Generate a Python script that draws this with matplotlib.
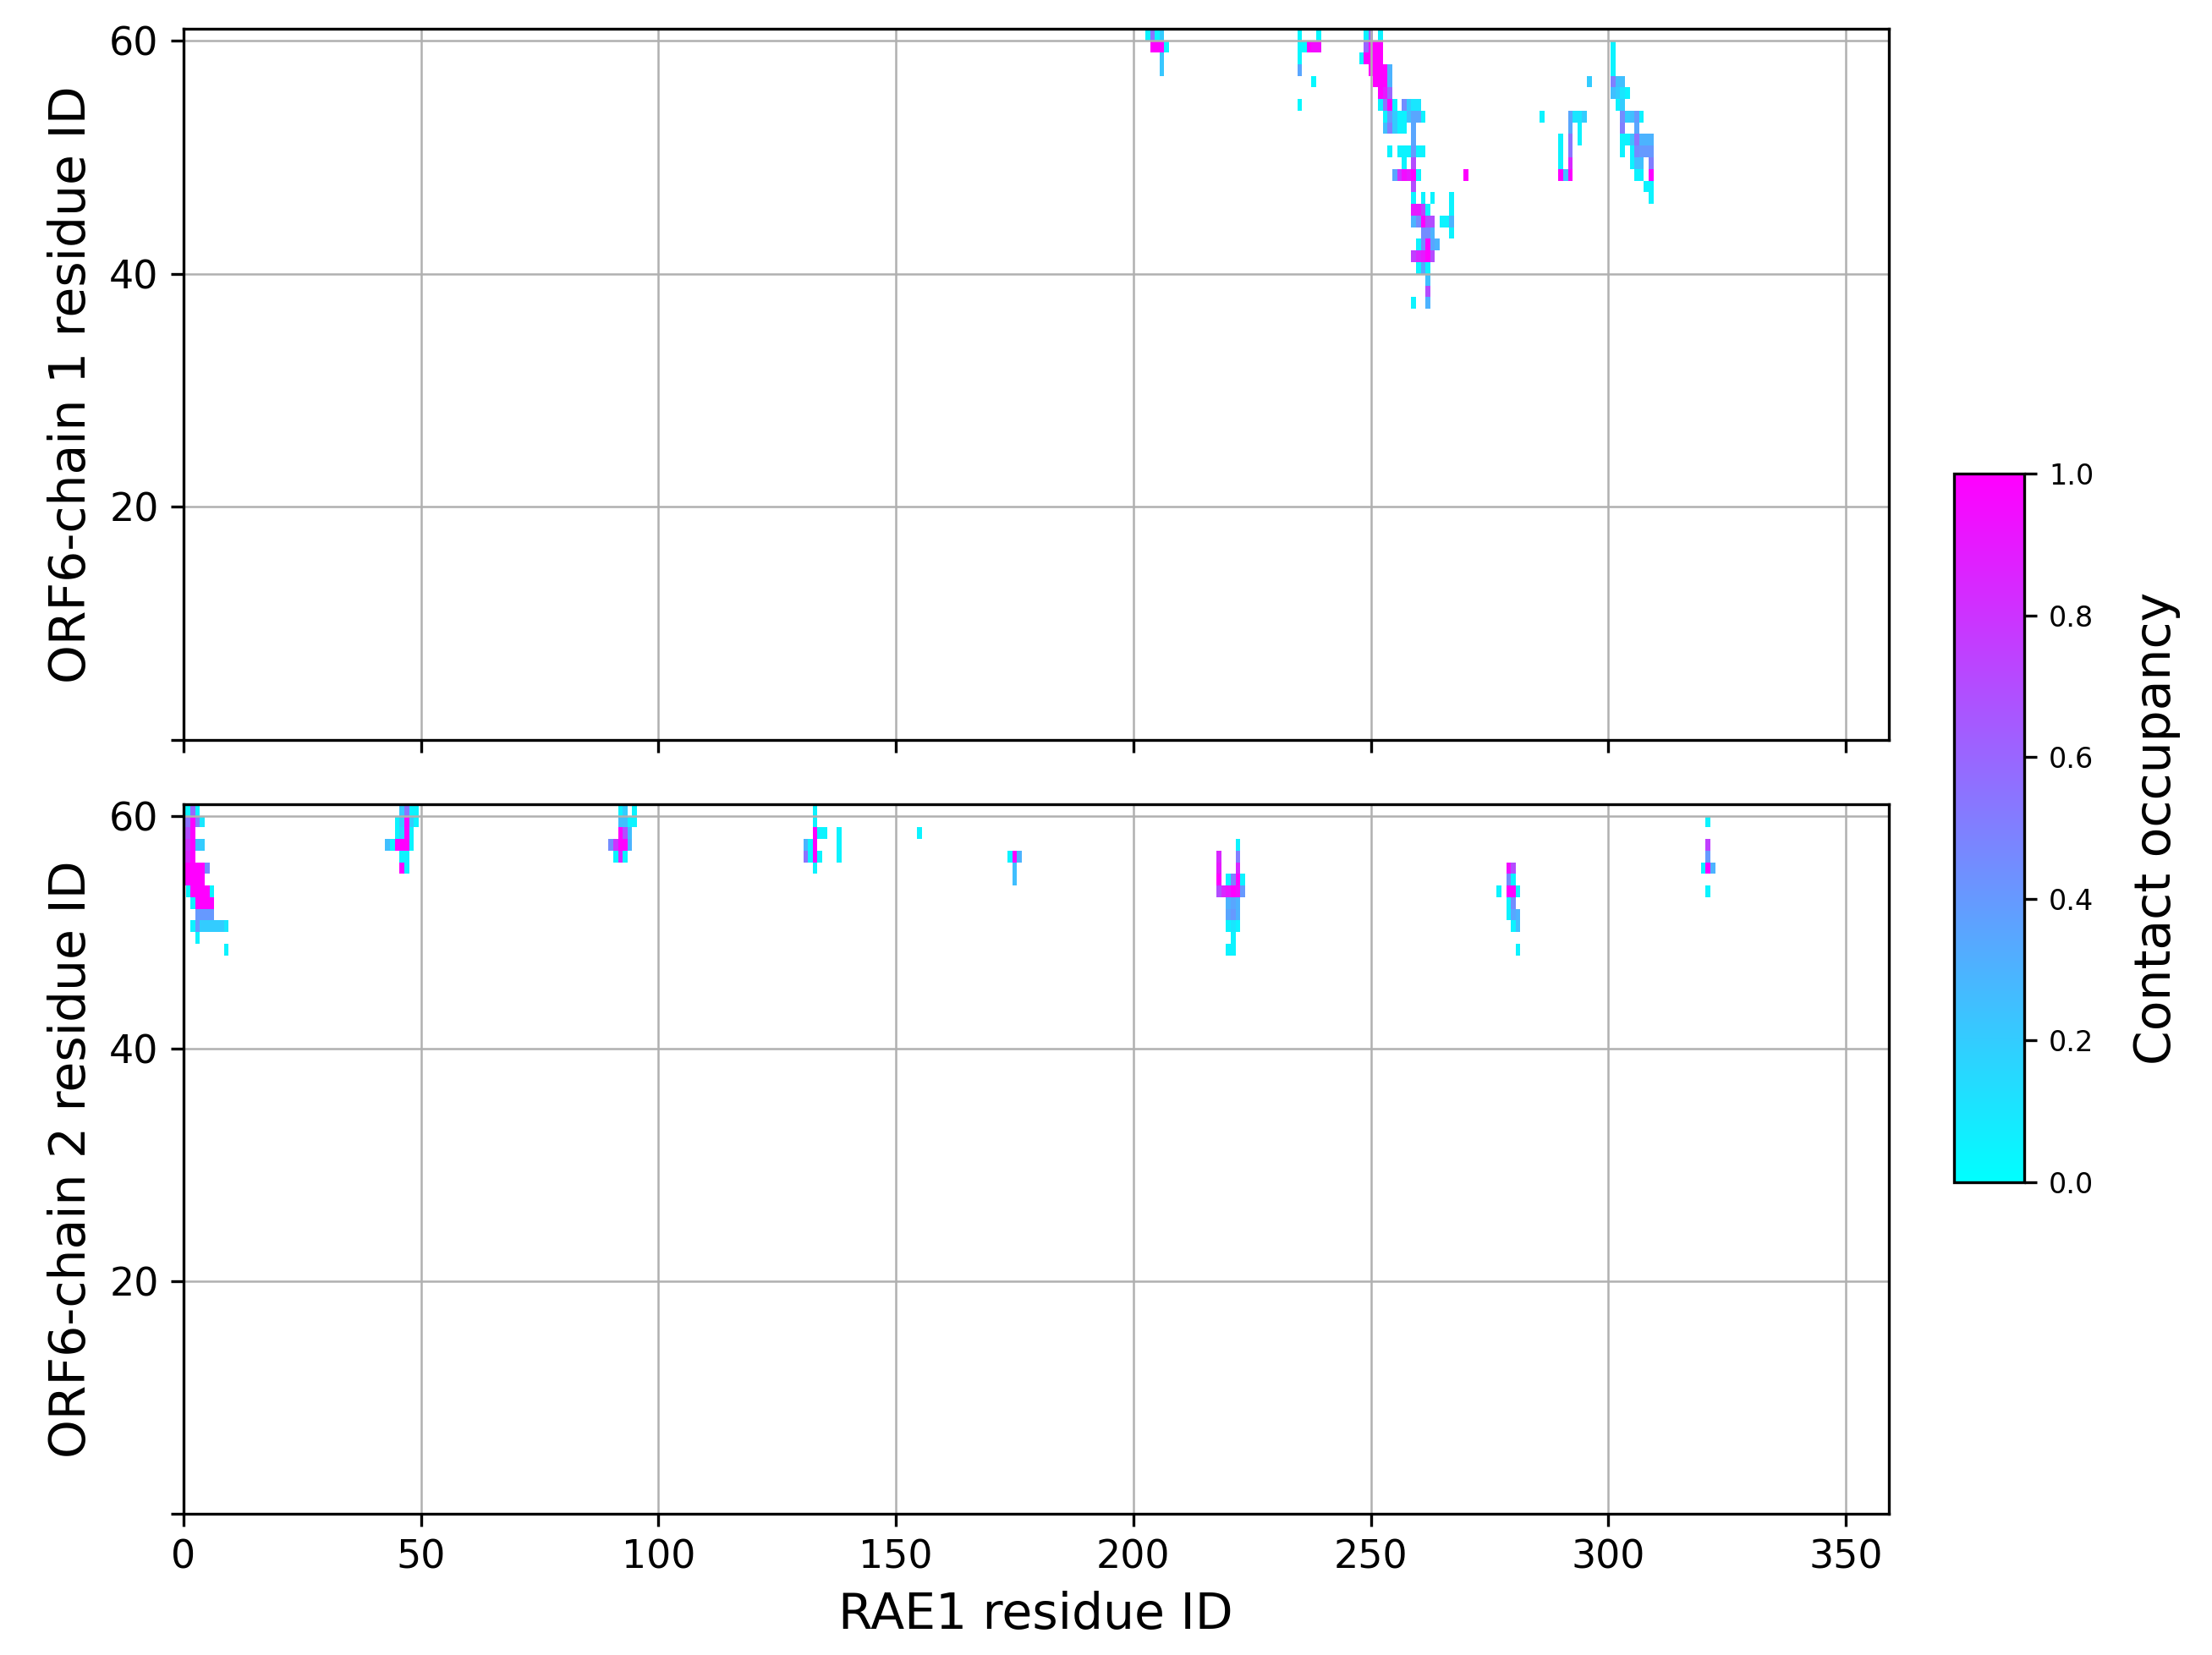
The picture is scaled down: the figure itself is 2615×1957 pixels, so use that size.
import numpy as np
import matplotlib
matplotlib.use("Agg")
import matplotlib.pyplot as plt

n_rae1 = 359
n_orf6 = 61

# contacts as (RAE1 residue index, ORF6 residue index, occupancy)
chain1_contacts = [
    # around RAE1 205
    (203, 60, 0.05), (204, 60, 0.55), (205, 60, 0.05), (206, 60, 0.2),
    (204, 59, 1.0), (205, 59, 1.0), (206, 59, 1.0), (207, 59, 0.05),
    (206, 58, 0.22), (206, 57, 0.22),
    # around RAE1 237
    (235, 60, 0.03), (239, 60, 0.03),
    (235, 59, 0.03), (236, 59, 0.03), (237, 59, 1.0), (238, 59, 0.95), (239, 59, 0.95),
    (235, 58, 0.03), (235, 57, 0.35), (238, 56, 0.03), (235, 54, 0.03),
    # main patch 248-270
    (249, 60, 0.05), (250, 60, 0.6), (252, 60, 0.05),
    (249, 59, 0.6), (250, 59, 1.0), (251, 59, 1.0), (252, 59, 1.0),
    (248, 58, 0.05), (249, 58, 1.0), (250, 58, 1.0), (251, 58, 1.0), (252, 58, 1.0),
    (250, 57, 1.0), (251, 57, 1.0), (252, 57, 1.0), (253, 57, 1.0), (254, 57, 0.3),
    (251, 56, 1.0), (252, 56, 1.0), (253, 56, 1.0), (254, 56, 0.3),
    (252, 55, 1.0), (253, 55, 0.9), (254, 55, 0.6),
    (252, 54, 0.05), (253, 54, 0.55), (254, 54, 1.0), (255, 54, 0.05), (257, 54, 0.45),
    (258, 54, 0.2), (259, 54, 0.1), (260, 54, 0.1),
    (253, 53, 0.05), (254, 53, 0.4), (255, 53, 0.2), (256, 53, 0.05), (257, 53, 0.05),
    (258, 53, 0.25), (259, 53, 0.35), (260, 53, 0.35), (261, 53, 0.05),
    (253, 52, 0.25), (254, 52, 0.5), (255, 52, 0.2), (256, 52, 0.05), (257, 52, 0.05),
    (259, 52, 0.35),
    (259, 51, 0.35),
    (254, 50, 0.05), (256, 50, 0.05), (257, 50, 0.05), (258, 50, 0.05), (259, 50, 0.4),
    (260, 50, 0.05), (261, 50, 0.05),
    (257, 49, 0.05), (259, 49, 0.7),
    (255, 48, 0.35), (256, 48, 0.8), (257, 48, 0.95), (258, 48, 0.9), (259, 48, 1.0),
    (260, 48, 0.05), (270, 48, 1.0),
    (259, 47, 0.7),
    (259, 46, 0.05), (261, 46, 0.05), (263, 46, 0.05), (267, 46, 0.05),
    (259, 45, 0.9), (260, 45, 0.9), (261, 45, 0.75), (262, 45, 0.05), (267, 45, 0.05),
    (259, 44, 0.3), (260, 44, 0.45), (261, 44, 1.0), (262, 44, 0.7), (263, 44, 0.7),
    (265, 44, 0.05), (266, 44, 0.05), (267, 44, 0.3),
    (261, 43, 0.45), (262, 43, 0.45), (263, 43, 0.3), (267, 43, 0.05),
    (260, 42, 0.05), (261, 42, 0.45), (262, 42, 1.0), (263, 42, 0.35), (264, 42, 0.3),
    (259, 41, 0.75), (260, 41, 0.85), (261, 41, 0.9), (262, 41, 1.0), (263, 41, 0.7),
    (260, 40, 0.05), (261, 40, 0.35), (262, 40, 0.05),
    (262, 39, 0.25), (262, 38, 0.7), (259, 37, 0.05), (262, 37, 0.3),
    # around RAE1 286-309
    (301, 59, 0.05), (301, 58, 0.05), (301, 57, 0.05),
    (296, 56, 0.2), (301, 56, 0.5), (302, 56, 0.25), (303, 56, 0.25),
    (301, 55, 0.25), (302, 55, 0.2), (303, 55, 0.1), (304, 55, 0.05),
    (302, 54, 0.05), (303, 54, 0.2),
    (286, 53, 0.05), (292, 53, 0.35), (293, 53, 0.1), (294, 53, 0.1), (295, 53, 0.2),
    (303, 53, 0.45), (304, 53, 0.2), (305, 53, 0.25), (306, 53, 0.4), (307, 53, 0.05),
    (292, 52, 0.35), (294, 52, 0.05), (303, 52, 0.5), (306, 52, 0.35),
    (290, 51, 0.05), (292, 51, 0.55), (294, 51, 0.05), (303, 51, 0.05), (304, 51, 0.05),
    (305, 51, 0.25), (306, 51, 0.55), (307, 51, 0.3), (308, 51, 0.3), (309, 51, 0.3),
    (290, 50, 0.05), (292, 50, 0.55), (303, 50, 0.05), (305, 50, 0.05), (306, 50, 0.45),
    (307, 50, 0.4), (308, 50, 0.4), (309, 50, 0.4),
    (290, 49, 0.05), (292, 49, 0.85), (305, 49, 0.05), (306, 49, 0.25), (307, 49, 0.25),
    (309, 49, 0.5),
    (290, 48, 1.0), (291, 48, 0.25), (292, 48, 1.0), (306, 48, 0.05), (307, 48, 0.05),
    (309, 48, 1.0),
    (308, 47, 0.05), (309, 47, 0.05), (309, 46, 0.05),
]

chain2_contacts = [
    # N-terminal patch 0-9
    (0, 60, 0.05), (1, 60, 0.05), (2, 60, 0.6), (3, 60, 0.05),
    (0, 59, 0.55), (1, 59, 0.55), (2, 59, 1.0), (3, 59, 0.5), (4, 59, 0.1),
    (0, 58, 0.7), (1, 58, 0.7), (2, 58, 1.0),
    (0, 57, 0.8), (1, 57, 0.8), (2, 57, 1.0), (3, 57, 0.25), (4, 57, 0.2),
    (0, 56, 0.85), (1, 56, 0.85), (2, 56, 1.0),
    (0, 55, 1.0), (1, 55, 1.0), (2, 55, 1.0), (3, 55, 1.0), (4, 55, 1.0), (5, 55, 0.45),
    (0, 54, 1.0), (1, 54, 1.0), (2, 54, 1.0), (3, 54, 1.0), (4, 54, 1.0),
    (1, 53, 0.05), (2, 53, 1.0), (3, 53, 1.0), (4, 53, 1.0), (5, 53, 1.0), (6, 53, 0.05),
    (2, 52, 0.05), (3, 52, 1.0), (4, 52, 1.0), (5, 52, 1.0), (6, 52, 1.0),
    (3, 51, 0.4), (4, 51, 0.4), (5, 51, 0.4), (6, 51, 0.4),
    (2, 50, 0.05), (3, 50, 0.4), (4, 50, 0.2), (5, 50, 0.2), (6, 50, 0.2), (7, 50, 0.2),
    (8, 50, 0.2), (9, 50, 0.1),
    (3, 49, 0.05), (9, 48, 0.05),
    # around RAE1 46
    (46, 60, 0.2), (47, 60, 0.55), (48, 60, 0.05), (49, 60, 0.05),
    (45, 59, 0.05), (46, 59, 0.2), (47, 59, 1.0), (48, 59, 0.2), (49, 59, 0.05),
    (45, 58, 0.05), (46, 58, 0.15), (47, 58, 1.0), (48, 58, 0.05),
    (43, 57, 0.25), (44, 57, 0.05), (45, 57, 1.0), (46, 57, 1.0), (47, 57, 1.0), (48, 57, 0.05),
    (46, 56, 0.05), (47, 56, 0.05), (46, 55, 1.0), (47, 55, 0.05),
    # around RAE1 92
    (92, 60, 0.05), (93, 60, 0.2), (95, 60, 0.05),
    (92, 59, 0.25), (93, 59, 0.25), (94, 59, 0.05), (95, 59, 0.05),
    (92, 58, 1.0), (93, 58, 0.7), (94, 58, 0.25),
    (90, 57, 0.45), (91, 57, 0.8), (92, 57, 1.0), (93, 57, 1.0), (94, 57, 0.3),
    (91, 56, 0.05), (92, 56, 0.85), (93, 56, 0.05),
    # around RAE1 133
    (133, 60, 0.05), (133, 59, 0.05),
    (133, 58, 1.0), (134, 58, 0.05), (135, 58, 0.05), (138, 58, 0.05),
    (131, 57, 0.3), (132, 57, 0.05), (133, 57, 1.0), (138, 57, 0.05),
    (131, 56, 0.55), (132, 56, 0.05), (133, 56, 1.0), (134, 56, 0.05), (138, 56, 0.05),
    (133, 55, 0.05), (155, 58, 0.05),
    # around RAE1 175
    (174, 56, 0.05), (175, 56, 1.0), (176, 56, 0.3), (175, 55, 0.25), (175, 54, 0.25),
    # around RAE1 220
    (222, 57, 0.05), (218, 56, 0.85), (222, 56, 0.5), (218, 55, 0.9), (222, 55, 0.85),
    (218, 54, 1.0), (220, 54, 0.05), (221, 54, 0.5), (222, 54, 1.0), (223, 54, 0.05),
    (218, 53, 0.7), (219, 53, 0.85), (220, 53, 0.9), (221, 53, 1.0), (222, 53, 0.95),
    (223, 53, 0.4),
    (220, 52, 0.3), (221, 52, 0.35), (222, 52, 0.3),
    (220, 51, 0.35), (221, 51, 0.4), (222, 51, 0.3),
    (220, 50, 0.05), (221, 50, 0.1), (222, 50, 0.05),
    (221, 49, 0.05), (220, 48, 0.05), (221, 48, 0.05),
    # around RAE1 279
    (279, 55, 0.95), (280, 55, 0.7), (279, 54, 0.45), (280, 54, 0.05),
    (277, 53, 0.05), (279, 53, 1.0), (280, 53, 1.0), (281, 53, 0.05),
    (279, 52, 0.05), (280, 52, 0.45),
    (279, 51, 0.05), (280, 51, 0.35), (281, 51, 0.3),
    (280, 50, 0.05), (281, 50, 0.25), (281, 48, 0.05),
    # around RAE1 321
    (321, 59, 0.05), (321, 57, 0.75), (321, 56, 0.4),
    (320, 55, 0.05), (321, 55, 1.0), (322, 55, 0.3), (321, 53, 0.05),
]

x_ticks = [0, 50, 100, 150, 200, 250, 300, 350]
y_ticks = [0, 20, 40, 60]
y_tick_labels = ["", "20", "40", "60"]
cbar_ticks = [0.0, 0.2, 0.4, 0.6, 0.8, 1.0]
y_labels = ["ORF6-chain 1 residue ID", "ORF6-chain 2 residue ID"]


def contact_matrix(contacts):
    m = np.zeros((n_orf6, n_rae1))
    for i, j, v in contacts:
        m[j, i] = v
    return np.ma.masked_equal(m, 0)


x_edges = np.arange(n_rae1 + 1) - 0.5
y_edges = np.arange(n_orf6 + 1)

fig = plt.figure(figsize=(2615 / 300, 1957 / 300), dpi=300)
ax_top = fig.add_axes([0.0829, 0.5529, 0.7709, 0.4295])
ax_bot = fig.add_axes([0.0829, 0.0853, 0.7709, 0.4288])

for ax, contacts, ylab in zip([ax_top, ax_bot], [chain1_contacts, chain2_contacts], y_labels):
    mesh = ax.pcolormesh(x_edges, y_edges, contact_matrix(contacts),
                         cmap="cool", vmin=0, vmax=1)
    ax.set_xlim(0, 359)
    ax.set_ylim(0, 61)
    ax.set_xticks(x_ticks)
    ax.set_yticks(y_ticks)
    ax.set_yticklabels(y_tick_labels)
    ax.tick_params(labelsize=11)
    ax.grid(True, color="#b0b0b0", linewidth=0.6)
    ax.set_ylabel(ylab, fontsize=14)

ax_top.set_xticklabels([])
ax_bot.set_xlabel("RAE1 residue ID", fontsize=14)

cax = fig.add_axes([0.8834, 0.2856, 0.0317, 0.4282])
cbar = fig.colorbar(mesh, cax=cax, ticks=cbar_ticks)
cbar.ax.tick_params(labelsize=8)
cbar.set_label("Contact occupancy", fontsize=14, labelpad=11)

fig.savefig("out.png", dpi=300)
